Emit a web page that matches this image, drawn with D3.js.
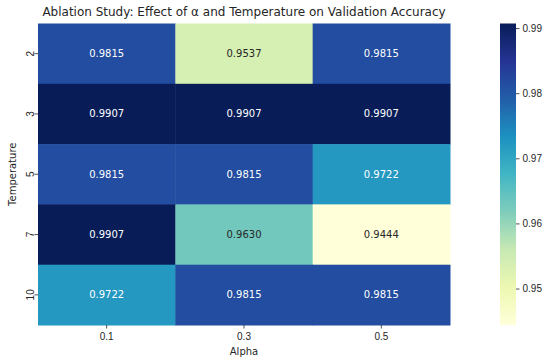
<!DOCTYPE html>
<html>
<head>
<meta charset="utf-8">
<style>
    body { margin: 0; background: #fff; }
    svg { font-family: 'DejaVu Sans', sans-serif; }
    .axis .domain { display: none; }
    .axis text { font-size: 10px; fill: #262626; }
    .axis line { stroke: #262626; stroke-width: 0.8; }
</style>
</head>
<body>
<svg width="550" height="364"></svg>
<script src="https://d3js.org/d3.v7.min.js"></script>
<script>
    // data
    let alphas = ["0.1", "0.3", "0.5"];
    let temperatures = ["2", "3", "5", "7", "10"];
    let accuracy = [
        [0.9815, 0.9537, 0.9815],
        [0.9907, 0.9907, 0.9907],
        [0.9815, 0.9815, 0.9722],
        [0.9907, 0.9630, 0.9444],
        [0.9722, 0.9815, 0.9815]
    ];
    let cbarTicks = [0.95, 0.96, 0.97, 0.98, 0.99];
    // matplotlib YlGnBu
    let ylgnbu = ["#ffffd9", "#edf8b1", "#c7e9b4", "#7fcdbb", "#41b6c4", "#1d91c0", "#225ea8", "#253494", "#081d58"];

    let svg = d3.select("svg");
    let margin = { top: 23.5, left: 38, right: 450, bottom: 325 };

    let cells = [];
    temperatures.forEach(function (t, i) {
        alphas.forEach(function (a, j) {
            cells.push({ t: t, a: a, value: accuracy[i][j] });
        });
    });

    let vmin = d3.min(cells, d => d.value);
    let vmax = d3.max(cells, d => d.value);

    let color = d3.scaleLinear()
        .domain(ylgnbu.map((c, i) => vmin + i * (vmax - vmin) / (ylgnbu.length - 1)))
        .range(ylgnbu)
        .clamp(true);

    let x = d3.scaleBand().domain(alphas).range([margin.left, margin.right]);
    let y = d3.scaleBand().domain(temperatures).range([margin.top, margin.bottom]);

    svg.append("g").selectAll("rect")
        .data(cells)
        .join("rect")
        .attr("x", d => x(d.a))
        .attr("y", d => y(d.t))
        .attr("width", x.bandwidth() + 0.5)
        .attr("height", y.bandwidth() + 0.5)
        .attr("fill", d => color(d.value));

    function textColor(c) {
        let rgb = d3.rgb(c);
        let lin = [rgb.r, rgb.g, rgb.b].map(function (v) {
            v = v / 255;
            return v <= 0.03928 ? v / 12.92 : Math.pow((v + 0.055) / 1.055, 2.4);
        });
        let lum = 0.2126 * lin[0] + 0.7152 * lin[1] + 0.0722 * lin[2];
        return lum > 0.408 ? "#262626" : "#ffffff";
    }

    svg.append("g").selectAll("text")
        .data(cells)
        .join("text")
        .attr("x", d => x(d.a) + x.bandwidth() / 2)
        .attr("y", d => y(d.t) + y.bandwidth() / 2)
        .attr("dy", "0.35em")
        .attr("text-anchor", "middle")
        .style("font-size", "10px")
        .attr("fill", d => textColor(color(d.value)))
        .text(d => d.value.toFixed(4));

    // axes
    svg.append("g")
        .attr("class", "axis")
        .attr("transform", `translate(0,${margin.bottom})`)
        .call(d3.axisBottom(x).tickSize(3.5).tickPadding(4));

    let yAxis = svg.append("g")
        .attr("class", "axis")
        .attr("transform", `translate(${margin.left},0)`)
        .call(d3.axisLeft(y).tickSize(3.5).tickPadding(4));

    yAxis.selectAll(".tick text")
        .attr("x", 0)
        .attr("dy", 0)
        .attr("text-anchor", "middle")
        .attr("transform", "translate(-4.5,0) rotate(-90)");

    svg.append("text")
        .attr("x", (margin.left + margin.right) / 2)
        .attr("y", 355)
        .attr("text-anchor", "middle")
        .style("font-size", "10px")
        .attr("fill", "#262626")
        .text("Alpha");

    svg.append("text")
        .attr("transform", `translate(15.5,${(margin.top + margin.bottom) / 2}) rotate(-90)`)
        .attr("text-anchor", "middle")
        .style("font-size", "10px")
        .attr("fill", "#262626")
        .text("Temperature");

    svg.append("text")
        .attr("x", (margin.left + margin.right) / 2)
        .attr("y", 16)
        .attr("text-anchor", "middle")
        .style("font-size", "12px")
        .attr("fill", "#262626")
        .text("Ablation Study: Effect of α and Temperature on Validation Accuracy");

    // colorbar
    let cbX = 500, cbW = 16;
    let cy = d3.scaleLinear().domain([vmin, vmax]).range([margin.bottom, margin.top]);

    let grad = svg.append("defs").append("linearGradient")
        .attr("id", "cbar")
        .attr("x1", 0).attr("x2", 0).attr("y1", 1).attr("y2", 0);
    grad.selectAll("stop")
        .data(color.domain())
        .join("stop")
        .attr("offset", (d, i) => i / (ylgnbu.length - 1))
        .attr("stop-color", d => color(d));

    svg.append("rect")
        .attr("x", cbX)
        .attr("y", margin.top)
        .attr("width", cbW)
        .attr("height", margin.bottom - margin.top)
        .attr("fill", "url(#cbar)");

    svg.append("g")
        .attr("class", "axis")
        .attr("transform", `translate(${cbX + cbW},0)`)
        .call(d3.axisRight(cy).tickValues(cbarTicks).tickFormat(d3.format(".2f")).tickSize(3.5).tickPadding(3));
</script>
</body>
</html>
